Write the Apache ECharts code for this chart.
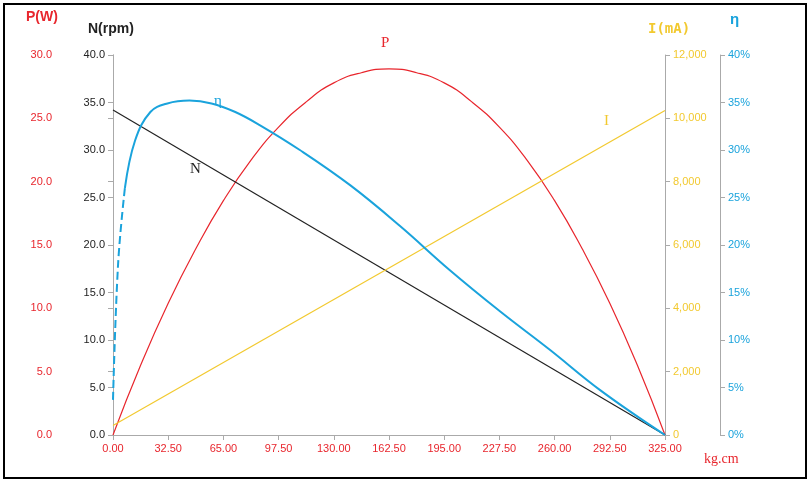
<!DOCTYPE html>
<html>
<head>
<meta charset="utf-8">
<script src="https://cdn.jsdelivr.net/npm/echarts@6/dist/echarts.min.js"></script>
<style>
  html, body { margin: 0; padding: 0; background: #fff; }
  #chart { width: 812px; height: 486px; }
</style>
</head>
<body>
<div id="chart"></div>
<script>
// torque (kg.cm) sample points
var torque = [0, 16.25, 32.5, 48.75, 65, 81.25, 97.5, 113.75, 130, 146.25, 162.5,
  178.75, 195, 211.25, 227.5, 243.75, 260, 276.25, 292.5, 308.75, 325];
var powerW = [0, 5.5, 10.4, 14.7, 18.5, 21.7, 24.3, 26.3, 27.8, 28.6, 28.9,
  28.6, 27.8, 26.3, 24.3, 21.7, 18.5, 14.7, 10.4, 5.5, 0];
var speedEnds = [[0, 34.2], [325, 0]];
var currentEnds = [[0, 300], [325, 10250]];
// efficiency (%), dashed start then solid
var effDashed = [[0, 3.7], [3, 18], [7, 26]];
var effSolid = [[7, 26], [13, 31], [22, 34], [32, 34.9], [45, 35.2], [58, 34.9], [72, 34],
  [86.6, 32.6], [110, 30], [139.6, 26.3], [169, 22], [198, 17.4], [228, 13], [257, 9],
  [287, 4.7], [325, 0]];

var RED = '#e8262d', BLACK = '#222', YEL = '#f2c92f', BLUE = '#1aa3dc';

var chart = echarts.init(document.getElementById('chart'));

function yAxis(pos, offset, max, interval, color, fmt) {
  return {
    type: 'value', position: pos, offset: offset, min: 0, max: max, interval: interval,
    axisLine: { show: true, lineStyle: { color: '#aaa' } },
    axisTick: { show: true, lineStyle: { color: '#aaa' } },
    splitLine: { show: false },
    axisLabel: { color: color, fontSize: 11, formatter: fmt }
  };
}

chart.setOption({
  animation: false,
  grid: { left: 113, right: 147, top: 55, bottom: 51 },
  xAxis: {
    type: 'value', min: 0, max: 325, interval: 32.5,
    axisLine: { lineStyle: { color: '#aaa' } },
    axisTick: { show: true, lineStyle: { color: '#aaa' } },
    splitLine: { show: false },
    axisLabel: { color: RED, fontSize: 11, formatter: function (v) { return v.toFixed(2); } }
  },
  yAxis: [
    yAxis('left', 53, 30, 5, RED, function (v) { return v.toFixed(1); }),
    yAxis('left', 0, 40, 5, BLACK, function (v) { return v.toFixed(1); }),
    yAxis('right', 0, 12000, 2000, YEL, function (v) { return v.toLocaleString('en-US'); }),
    yAxis('right', 55, 40, 5, BLUE, function (v) { return v + '%'; })
  ],
  series: [
    { type: 'line', yAxisIndex: 0, smooth: 0.5, symbol: 'none',
      data: torque.map(function (t, i) { return [t, powerW[i]]; }),
      lineStyle: { color: RED, width: 1.2 } },
    { type: 'line', yAxisIndex: 1, symbol: 'none', data: speedEnds,
      lineStyle: { color: BLACK, width: 1.2 } },
    { type: 'line', yAxisIndex: 2, symbol: 'none', data: currentEnds,
      lineStyle: { color: YEL, width: 1.2 } },
    { type: 'line', yAxisIndex: 3, smooth: 0.4, symbol: 'none', data: effDashed,
      lineStyle: { color: BLUE, width: 2, type: [8, 4] } },
    { type: 'line', yAxisIndex: 3, smooth: 0.4, symbol: 'none', data: effSolid,
      lineStyle: { color: BLUE, width: 2 } }
  ],
  graphic: [
    { type: 'rect', shape: { x: 4, y: 4, width: 802, height: 474 },
      style: { fill: 'none', stroke: '#000', lineWidth: 2 } },
    { type: 'text', left: 26, top: 10, style: { text: 'P(W)', fill: RED, font: 'bold 14px Arial' } },
    { type: 'text', left: 88, top: 22, style: { text: 'N(rpm)', fill: BLACK, font: 'bold 14px Arial' } },
    { type: 'text', left: 648, top: 22, style: { text: 'I(mA)', fill: YEL, font: 'bold 14px "DejaVu Sans Mono"' } },
    { type: 'text', left: 730, top: 12, style: { text: 'η', fill: BLUE, font: 'bold 15px Arial' } },
    { type: 'text', left: 704, top: 452, style: { text: 'kg.cm', fill: RED, font: '14px "Liberation Serif"' } },
    { type: 'text', left: 381, top: 36, style: { text: 'P', fill: RED, font: '15px "Liberation Serif"' } },
    { type: 'text', left: 190, top: 162, style: { text: 'N', fill: BLACK, font: '15px "Liberation Serif"' } },
    { type: 'text', left: 604, top: 114, style: { text: 'I', fill: YEL, font: '15px "Liberation Serif"' } },
    { type: 'text', left: 214, top: 94, style: { text: 'η', fill: BLUE, font: '15px "Liberation Serif"' } }
  ]
});
</script>
</body>
</html>
